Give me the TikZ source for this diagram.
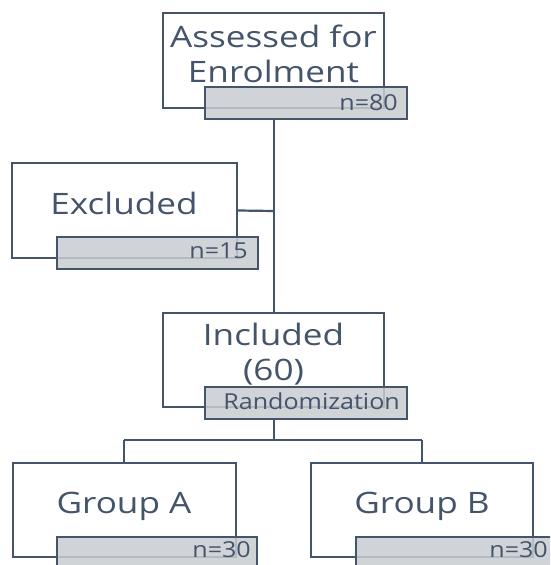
\documentclass[tikz,border=0pt]{standalone}
\usepackage{fontspec}
\setmainfont{Open Sans}
\newfontfamily\bigf[FakeStretch=1.19]{Open Sans}
\newfontfamily\smallf[FakeStretch=1.14]{Open Sans}
\definecolor{ink}{HTML}{44546A}
\definecolor{tagfill}{HTML}{C8CCD0}
\tikzset{
  mainbox/.style={draw=ink, line width=2.2pt, fill=white, rectangle, inner sep=0pt},
  tagbox/.style={draw=ink, line width=2.2pt, fill=tagfill, fill opacity=0.85, draw opacity=1, rectangle, inner sep=0pt},
  bigtxt/.style={text=ink, font=\bigf\fontsize{29.5}{34}\selectfont, anchor=base, inner sep=0pt},
  smalltxt/.style={text=ink, font=\smallf\fontsize{22}{26}\selectfont, anchor=base east, inner sep=0pt},
  conn/.style={draw=ink, line width=2.2pt}
}
\begin{document}
\begin{tikzpicture}[x=1pt,y=-1pt]
\useasboundingbox (0,0) rectangle (550,565);
\clip (0,0) rectangle (550,565);
% boxes
\node[mainbox, minimum width=221pt, minimum height=95pt] (b1) at (273.5,60.5) {};
\node[mainbox, minimum width=225pt, minimum height=95pt] (b2) at (124.5,210.5) {};
\node[mainbox, minimum width=221pt, minimum height=94pt] (b3) at (273.5,360) {};
\node[mainbox, minimum width=223pt, minimum height=94pt] (b4) at (124.5,510) {};
\node[mainbox, minimum width=222pt, minimum height=94pt] (b5) at (422,510) {};
% connectors
\coordinate (j1) at (274,211);
\coordinate (s) at (274,440);
\coordinate (sl) at (124,440);
\coordinate (sr) at (422,440);
\draw[conn] (274,119) -- (b3.north -| 274,0);
\draw[conn] (b2.east) -- (j1);
\draw[conn] (274,419) -- (s);
\draw[conn] (sl) -- (sr);
\draw[conn] (sl) -- (b4.north -| sl);
\draw[conn] (sr) -- (b5.north -| sr);
% tag boxes
\node[tagbox, minimum width=202pt, minimum height=32pt] (t1) at (306,103) {};
\node[tagbox, minimum width=201pt, minimum height=32pt] (t2) at (157.5,253) {};
\node[tagbox, minimum width=202pt, minimum height=32pt] (t3) at (306,403) {};
\node[tagbox, minimum width=200pt, minimum height=32pt] (t4) at (157,553) {};
\node[tagbox, minimum width=200pt, minimum height=32pt] (t5) at (456,553) {};
% texts
\node[bigtxt] (l1a) at (273.5,47) {Assessed for};
\node[bigtxt] (l1b) at (273.5,82) {Enrolment};
\node[bigtxt] (l2) at (124,214.5) {Excluded};
\node[bigtxt] (l3a) at (273.5,345) {Included};
\node[bigtxt] (l3b) at (273.5,380) {(60)};
\node[bigtxt] (l4) at (124,513) {Group A};
\node[bigtxt] (l5) at (422,513) {Group B};
\node[smalltxt] (n1) at (398,110) {n=80};
\node[smalltxt] (n2) at (248,258) {n=15};
\node[smalltxt] (n3) at (400,409) {Randomization};
\node[smalltxt] (n4) at (251,557) {n=30};
\node[smalltxt] (n5) at (548,557) {n=30};
\end{tikzpicture}
\end{document}
